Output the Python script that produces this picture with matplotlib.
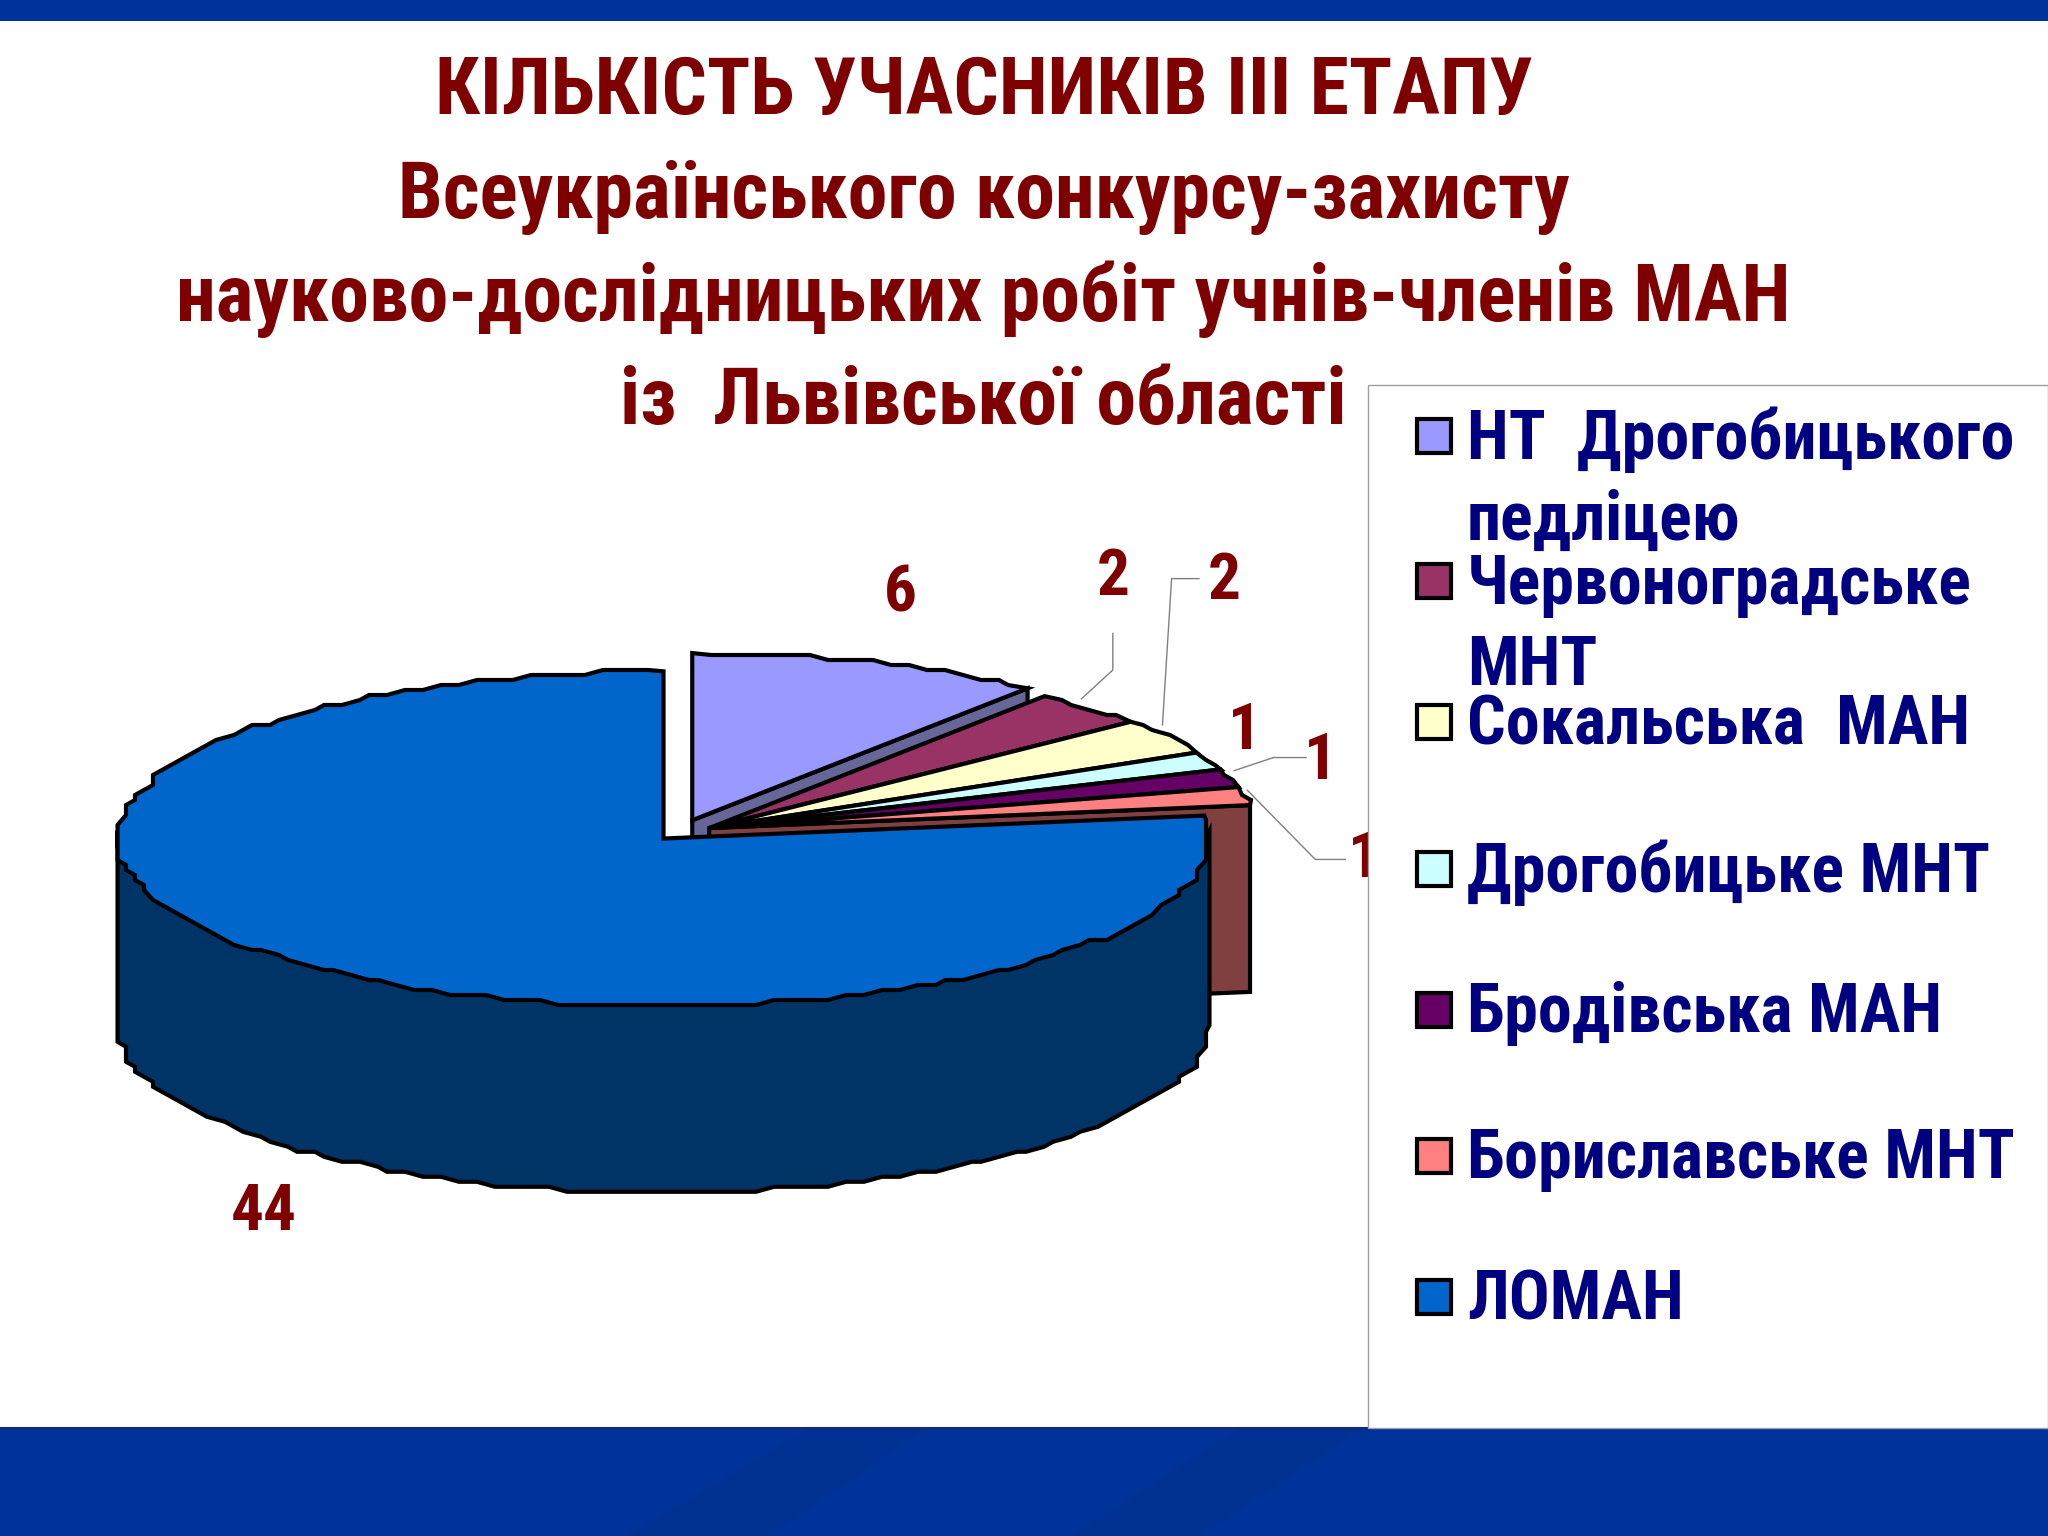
import numpy as np
import matplotlib
matplotlib.use('Agg')
import matplotlib.pyplot as plt
from matplotlib.patches import Rectangle

title_lines = ['КІЛЬКІСТЬ УЧАСНИКІВ ІІІ ЕТАПУ',
               'Всеукраїнського конкурсу-захисту',
               'науково-дослідницьких робіт учнів-членів МАН',
               'із  Львівської області']
categories = ['НТ  Дрогобицького\nпедліцею', 'Червоноградське\nМНТ', 'Сокальська  МАН',
              'Дрогобицьке МНТ', 'Бродівська МАН', 'Бориславське МНТ', 'ЛОМАН']
values = [6, 2, 2, 1, 1, 1, 44]
colors = ['#9999FF', '#993366', '#FFFFCC', '#CCFFFF', '#660066', '#FF8080', '#0066CC']

plt.rcParams['font.family'] = ['Roboto Condensed', 'Liberation Sans', 'DejaVu Sans']
plt.rcParams['font.weight'] = 'bold'

RED = '#7F0000'
NAVY = '#000080'
BAR = '#003399'
S = 2048 / 1568  # measured on a 1568 wide view
LW = 3.0

fig = plt.figure(figsize=(20.48, 15.36), dpi=100)
ax = fig.add_axes([0, 0, 1, 1])
ax.set_xlim(0, 2048)
ax.set_ylim(1536, 0)
ax.axis('off')

# slide bands, with the faint diagonal streaks of the template
ax.add_patch(Rectangle((0, 0), 2048, 16 * S, color=BAR, lw=0, zorder=1))
ax.add_patch(Rectangle((0, 1093 * S), 2048, 1536 - 1093 * S, color=BAR, lw=0, zorder=1))
for sx in ([620, 710, 590, 480], [950, 1045, 920, 820]):
    ax.fill(np.array(sx) * S, np.array([1093, 1093, 1176, 1176]) * S, color='black',
            alpha=0.04, lw=0, zorder=1.5)
ax.plot([0, 2048], [1093 * S, 1093 * S], color='#1A2A6C', lw=1.5, zorder=2)

# title
for txt, y in zip(title_lines, [71, 151, 229, 308]):
    ax.text(753 * S, y * S, txt, color=RED, fontsize=57.5, ha='center', va='center', zorder=8)

# pie geometry: angles come from the values, clockwise from 12 o'clock
rx, ry = 418 * S, 128 * S
depth = 143 * S
angles = 90 - np.cumsum([0] + values) / sum(values) * 360
c_first = (530 * S, 628 * S)
c_group = (543 * S, 634 * S)
c_big = (508 * S, 642 * S)


def arc(c, a0, a1):
    # coarse stepped outline, the source chart has a jagged rim
    n = max(2, int(abs(a1 - a0) / 2) + 1)
    t = np.radians(np.linspace(a0, a1, n))
    x = c[0] + rx * np.cos(t)
    y = c[1] - ry * np.sin(t)
    x[1:-1] = np.clip(np.round(x[1:-1] / 9) * 9, c[0] - rx, c[0] + rx)
    y[1:-1] = np.round(y[1:-1] / 5) * 5
    return x, y


def cut_face(c, a, color):
    x = c[0] + rx * np.cos(np.radians(a))
    y = c[1] - ry * np.sin(np.radians(a))
    ax.fill([c[0], x, x, c[0]], [c[1], y, y + depth, c[1] + depth],
            facecolor=color, edgecolor='black', lw=LW, zorder=3)


def top(c, a0, a1, color, z):
    x, y = arc(c, a0, a1)
    ax.fill(np.r_[c[0], x], np.r_[c[1], y], facecolor=color, edgecolor='black',
            lw=LW, zorder=z, joinstyle='miter')


# cut faces behind the small slices
cut_face(c_first, angles[1], '#666699')
cut_face(c_group, angles[6], '#804040')
for i in range(6):
    c = c_first if i == 0 else c_group
    top(c, angles[i], angles[i + 1], colors[i], 4)

# big slice: rim then top
xt, yt = arc(c_big, 0, -180)
ax.fill(np.r_[xt, xt[::-1]], np.r_[yt - 8, yt[::-1] + depth],
        facecolor='#003366', edgecolor='black', lw=LW, zorder=5)
top(c_big, angles[6], angles[7], colors[6], 6)

# data labels
label_x = [689, 852, 937, 953, 1011, 1045, 202]
label_y = [455, 442, 445, 560, 583, 658, 928]
for v, x, y in zip(values, label_x, label_y):
    ax.text(x * S, y * S, str(v), color=RED, fontsize=47, ha='center', va='center', zorder=7)

# leader lines
leaders = [([852, 852, 828], [485, 513, 535]),
           ([918, 897, 890], [443, 443, 555]),
           ([1000, 975, 945], [580, 580, 590]),
           ([1030, 1007, 955], [658, 658, 605])]
for lx, ly in leaders:
    ax.plot(np.array(lx) * S, np.array(ly) * S, color='#808080', lw=1, zorder=7)

# legend panel
ax.add_patch(Rectangle((1047 * S, 295 * S), 2048 - 1047 * S, (1093 - 295) * S, facecolor='white',
                       edgecolor='#A0A0A0', lw=1, zorder=9))
legend_y = [334, 445, 553, 665, 773, 885, 993]
text_dy = 3
line_gap = 62
for cat, col, y in zip(categories, colors, legend_y):
    ax.add_patch(Rectangle((1085 * S, (y - 13) * S), 26 * S, 26 * S, facecolor=col,
                           edgecolor='black', lw=LW, zorder=10))
    for k, part in enumerate(cat.split('\n')):
        ax.text(1123 * S, (y + text_dy + k * line_gap) * S, part, color=NAVY, fontsize=49,
                ha='left', va='center', zorder=10)

fig.savefig('out.png', dpi=100, facecolor='white')
